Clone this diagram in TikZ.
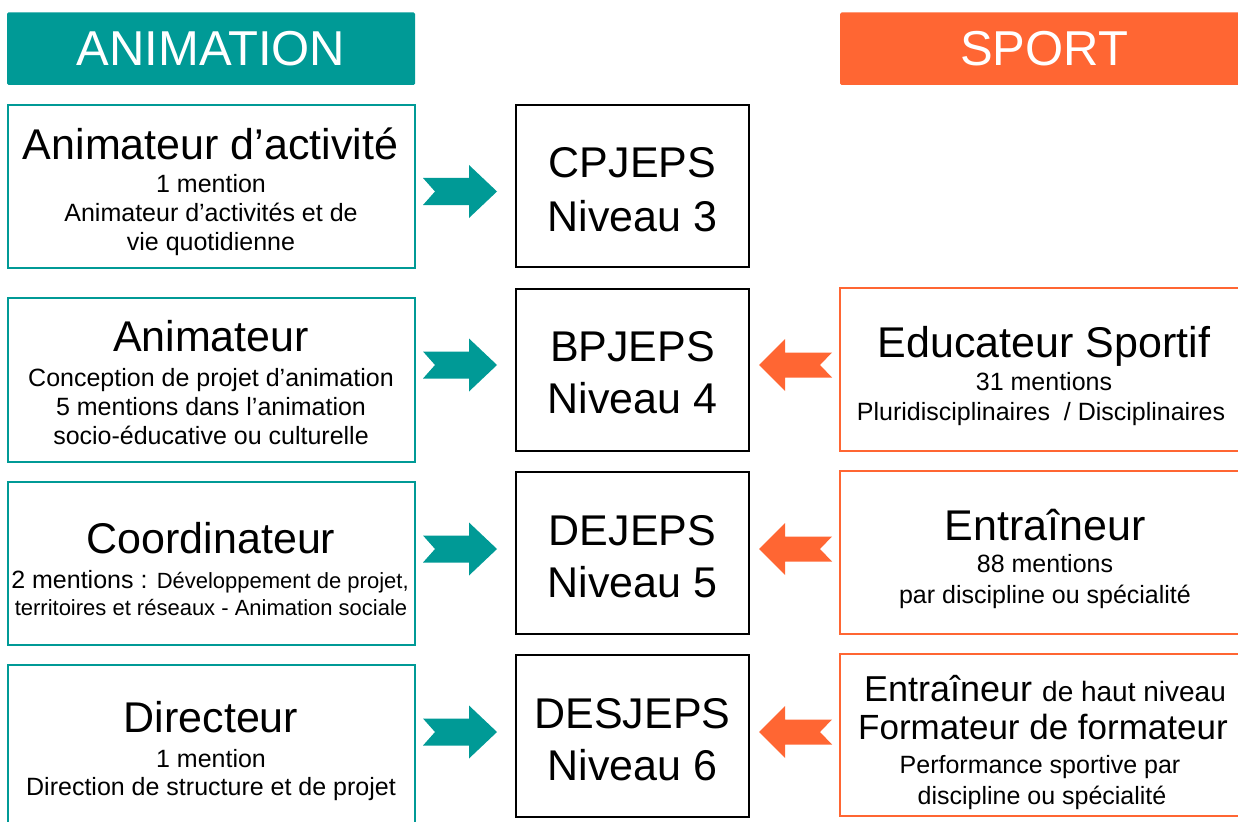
\documentclass[tikz,border=0pt]{standalone}
\usepackage{fontspec}
\setmainfont{Liberation Sans}
\definecolor{teal0}{HTML}{009A96}
\definecolor{orng}{HTML}{FF6633}
\begin{document}
\begin{tikzpicture}[x=1pt,y=-1pt,
  lbox/.style={draw=teal0, line width=2pt, minimum width=407pt, inner sep=0pt},
  mbox/.style={draw=black, line width=2pt, minimum width=233pt, minimum height=162pt, inner sep=0pt},
  rbox/.style={draw=orng, line width=2pt, minimum width=408pt, minimum height=163pt, inner sep=0pt},
  hdr/.style={minimum width=408pt, minimum height=72.5pt, inner sep=0pt, rounded corners=1.5pt, text=white, font=\fontsize{49}{55}\selectfont},
  ttl/.style={anchor=base, inner sep=0pt, font=\fontsize{43}{48}\selectfont},
  sml/.style={anchor=base, inner sep=0pt, font=\fontsize{25}{30}\selectfont},
  tealarr/.pic={\fill[teal0] (-37,-13.5) -- (9,-13.5) -- (9,-26.5) -- (37,0) -- (9,26.5) -- (9,13.5) -- (-37,13.5) -- (-25,0) -- cycle;},
  orngarr/.pic={\fill[orng] (36.5,-12.5) -- (-10.5,-12.5) -- (-10.5,-26) -- (-36.5,0) -- (-10.5,26) -- (-10.5,12.5) -- (36.5,12.5) -- (24.5,0) -- cycle;}
]
\useasboundingbox (0,0) rectangle (1238,821);

% headers
\node[hdr, fill=teal0] (hA) at (211,48.75) {ANIMATION};
\node[hdr, fill=orng] (hS) at (1044,48.75) {SPORT};

% left boxes
\node[lbox, minimum height=163pt] (a1) at (211,186.5) {};
\node[lbox, minimum height=164pt] (a2) at (211,380) {};
\node[lbox, minimum height=163pt] (a3) at (211,563.5) {};
\node[lbox, minimum height=170pt] (a4) at (211,750) {};

% middle boxes
\node[mbox] (m1) at (632.5,186) {};
\node[mbox] (m2) at (632.5,370) {};
\node[mbox] (m3) at (632.5,553) {};
\node[mbox] (m4) at (632.5,736) {};

% right boxes
\node[rbox] (s2) at (1044,369.5) {};
\node[rbox] (s3) at (1044,552.5) {};
\node[rbox, minimum height=162pt] (s4) at (1044,735) {};

% left texts
\node[ttl] (a1t) at (210.5,160) {Animateur d’activité};
\node[sml] (a1a) at (211,192) {1 mention};
\node[sml] (a1b) at (211,221) {Animateur d’activités et de};
\node[sml] (a1c) at (211,250) {vie quotidienne};

\node[ttl] (a2t) at (211,351) {Animateur};
\node[sml] (a2a) at (211,386) {Conception de projet d’animation};
\node[sml] (a2b) at (211,415) {5 mentions dans l’animation};
\node[sml] (a2c) at (211,444) {socio-éducative ou culturelle};

\node[ttl] (a3t) at (211,553) {Coordinateur};
\node[sml] (a3a) at (210,588) {2 mentions : {\fontsize{22}{26}\selectfont Développement de projet,}};
\node[sml, font=\fontsize{22}{26}\selectfont] (a3b) at (211,615) {territoires et réseaux - Animation sociale};

\node[ttl] (a4t) at (211,732) {Directeur};
\node[sml] (a4a) at (211,767) {1 mention};
\node[sml] (a4b) at (211,795) {Direction de structure et de projet};

% middle texts
\node[ttl] (m1t) at (632.5,178) {CPJEPS};
\node[ttl] (m1n) at (632.5,231) {Niveau 3};
\node[ttl] (m2t) at (632.5,361) {BPJEPS};
\node[ttl] (m2n) at (632.5,413) {Niveau 4};
\node[ttl] (m3t) at (632.5,545) {DEJEPS};
\node[ttl] (m3n) at (632.5,597) {Niveau 5};
\node[ttl] (m4t) at (632.5,728) {DESJEPS};
\node[ttl] (m4n) at (632.5,780) {Niveau 6};

% right texts
\node[ttl] (s2t) at (1044,357) {Educateur Sportif};
\node[sml] (s2a) at (1044,390) {31 mentions};
\node[sml] (s2b) at (1041,420) {Pluridisciplinaires\ \ / Disciplinaires};

\node[ttl] (s3t) at (1045,540) {Entraîneur};
\node[sml] (s3a) at (1045,572) {88 mentions};
\node[sml] (s3b) at (1045,603) {par discipline ou spécialité};

\node[anchor=base, inner sep=0pt, font=\fontsize{36}{40}\selectfont] (s4t) at (1045,701) {Entraîneur {\fontsize{28}{32}\selectfont de haut niveau}};
\node[anchor=base, inner sep=0pt, font=\fontsize{35}{40}\selectfont] (s4f) at (1043,739) {Formateur de formateur};
\node[sml] (s4a) at (1040,773) {Performance sportive par};
\node[sml] (s4b) at (1042,804) {discipline ou spécialité};

% arrows
\pic at (460,191.5) {tealarr};
\pic at (460,365) {tealarr};
\pic at (460,549) {tealarr};
\pic at (460,732) {tealarr};
\pic at (795.5,365) {orngarr};
\pic at (795.5,549) {orngarr};
\pic at (795.5,732) {orngarr};
\end{tikzpicture}
\end{document}
